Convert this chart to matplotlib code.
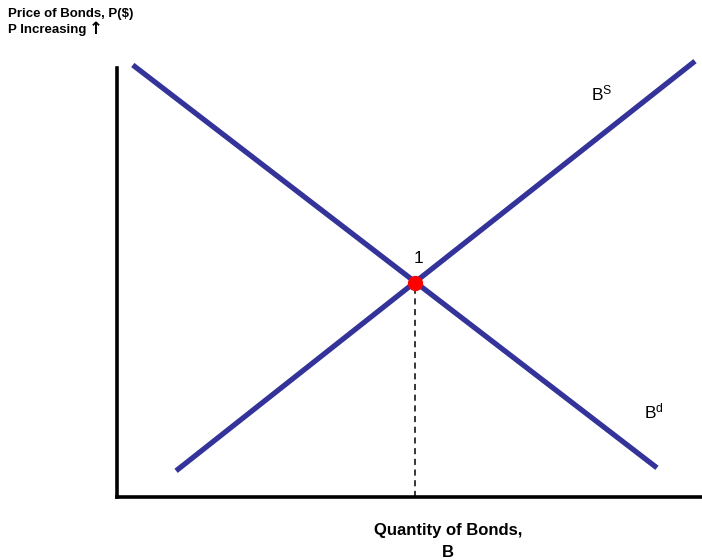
import matplotlib
matplotlib.use("Agg")
import matplotlib.pyplot as plt

plt.rcParams['font.family'] = ['Liberation Sans', 'DejaVu Sans']
plt.rcParams['mathtext.fontset'] = 'custom'
plt.rcParams['mathtext.rm'] = 'Liberation Sans'
plt.rcParams['mathtext.it'] = 'Liberation Sans'

# demand and supply lines for bonds (quantity, price), arbitrary 0-10 units
demand_q = [0.27, 9.23]
demand_p = [10.07, 0.68]
supply_q = [1.01, 9.88]
supply_p = [0.61, 10.16]
eq_q = 5.09
eq_p = 5.0

line_col = '#333399'

fig = plt.figure(figsize=(7.02, 5.60), dpi=100)
# axes placed so that the spines sit where the reference draws them
ax = fig.add_axes([117 / 702, 63 / 560, 585 / 702, 440 / 560])
ax.set_xlim(0, 10)
ax.set_ylim(0, 440 / 42.9)

ax.plot(demand_q, demand_p, color=line_col, lw=3.8, solid_capstyle='butt')
ax.plot(supply_q, supply_p, color=line_col, lw=3.8, solid_capstyle='butt')
ax.plot([eq_q, eq_q], [0, eq_p], color='black', lw=1.1, ls=(0, (4, 3)))
ax.plot(eq_q, eq_p, 'o', color='red', markersize=10, zorder=5)

ax.text(eq_q + 0.07, eq_p + 0.38, '1', fontsize=12.5, ha='center', va='bottom')
ax.text(8.11, 9.4, r'B$^{\mathrm{S}}$', fontsize=12.5, ha='left', va='center')
ax.text(9.0, 2.0, r'B$^{\mathrm{d}}$', fontsize=12.5, ha='left', va='center')

for s in ['top', 'right']:
    ax.spines[s].set_visible(False)
ax.spines['left'].set_linewidth(2.6)
ax.spines['bottom'].set_linewidth(2.6)
ax.spines['left'].set_bounds(0, 10)
ax.set_xticks([])
ax.set_yticks([])

fig.text(8 / 702, 1 - 14 / 560, 'Price of Bonds, P($)', fontsize=9.5,
         fontweight='bold', va='center', ha='left')
fig.text(8 / 702, 1 - 30 / 560, 'P Increasing', fontsize=9.5,
         fontweight='bold', va='center', ha='left')
fig.text(89 / 702, 1 - 29 / 560, '\u2191', fontsize=12, fontweight='bold',
         family='DejaVu Sans', va='center', ha='left')
fig.text(448 / 702, 1 - 531 / 560, 'Quantity of Bonds,', fontsize=12,
         fontweight='bold', va='center', ha='center')
fig.text(448 / 702, 1 - 545 / 560, 'B', fontsize=12,
         fontweight='bold', va='top', ha='center')

fig.savefig('out.png', dpi=100)
